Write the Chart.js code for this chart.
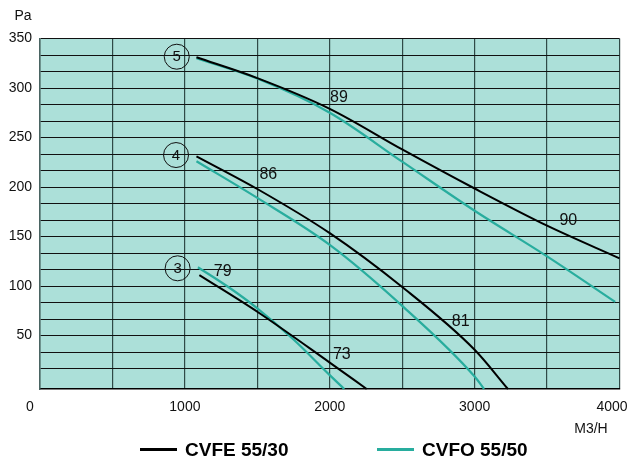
<!DOCTYPE html>
<html><head><meta charset="utf-8">
<script src="https://cdn.jsdelivr.net/npm/chart.js@4.4.1/dist/chart.umd.min.js"></script>
<style>html,body{margin:0;padding:0;background:#fff}#wrap{width:630px;height:459px}</style>
</head><body><div id="wrap"><canvas id="c" width="630" height="459"></canvas></div>
<script>
// ---- axis / tick data ----
const xTickValues = [0, 1000, 2000, 3000, 4000];
const yTickLabels = [50, 100, 150, 200, 250, 300, 350];
const seriesNames = ['CVFE 55/30', 'CVFO 55/50'];

// ---- CVFE 55/30 (black) ----
const cvfe5Flow = [1080, 1500, 2000, 2500, 3000, 3500, 4000];
const cvfe5Pa   = [331, 310, 279, 238, 198.5, 161, 128];
const cvfe4Flow = [1080, 1500, 2000, 2500, 3000, 3230];
const cvfe4Pa   = [231, 198, 153.4, 99, 35.6, -4];
const cvfe3Flow = [1100, 1500, 2000, 2255];
const cvfe3Pa   = [111, 74, 22.7, -4];

// ---- CVFO 55/50 (teal) ----
const cvfo5Flow = [1080, 1500, 2000, 2500, 3000, 3500, 3970];
const cvfo5Pa   = [330, 309.5, 275, 225.6, 176, 130, 84];
const cvfo4Flow = [1080, 1500, 2000, 2500, 3000, 3065];
const cvfo4Pa   = [226, 189, 141.6, 80, 8.6, -4];
const cvfo3Flow = [1090, 1300, 1500, 1750, 2000, 2100];
const cvfo3Pa   = [119, 99, 77.5, 46, 10, -4];

// ---- annotations (data units) ----
const speedNames = ['5', '4', '3'];
const speedFlow  = [944, 939, 950];
const speedPa    = [331.6, 232.3, 117.9];
const effNames = ['89', '86', '79', '73', '81', '90'];
const effFlow  = [2064, 1576, 1261, 2083, 2904, 3647];
const effPa    = [290.6, 212.1, 114.5, 30.3, 64, 165.7];

const BLACK = '#000000';
const TEAL = '#28ad9e';
const FONT = '"Liberation Sans", Arial, Helvetica, sans-serif';

function pts(xs, ys) { return xs.map((x, i) => ({ x: x, y: ys[i] })); }
function ds(label, xs, ys, color, w) {
  return { label: label, data: pts(xs, ys), borderColor: color, backgroundColor: color,
    borderWidth: w, pointRadius: 0, showLine: true, fill: false,
    cubicInterpolationMode: 'monotone', clip: false };
}

const yGrid = [];
for (let i = 1; i <= 21; i++) yGrid.push((i * 50) / 3);

const decor = {
  id: 'decor',
  beforeDraw(chart) {
    const a = chart.chartArea, ctx = chart.ctx;
    ctx.save();
    ctx.fillStyle = '#ace0d9';
    ctx.fillRect(a.left, a.top, a.right - a.left, a.bottom - a.top);
    ctx.restore();
  },
  afterDatasetsDraw(chart) {
    const ctx = chart.ctx, xs = chart.scales.x, ys = chart.scales.y, a = chart.chartArea;
    ctx.save();
    ctx.fillStyle = '#111';
    ctx.textAlign = 'center';
    ctx.textBaseline = 'middle';
    // efficiency numbers
    ctx.font = '16px ' + FONT;
    effNames.forEach((t, i) => ctx.fillText(t, xs.getPixelForValue(effFlow[i]), ys.getPixelForValue(effPa[i])));
    // speed circles
    ctx.font = '15px ' + FONT;
    ctx.strokeStyle = '#111';
    ctx.lineWidth = 1;
    speedNames.forEach((t, i) => {
      const px = xs.getPixelForValue(speedFlow[i]), py = ys.getPixelForValue(speedPa[i]);
      ctx.beginPath(); ctx.arc(px, py, 12.5, 0, Math.PI * 2); ctx.stroke();
      ctx.fillText(t, px, py + 0.5);
    });
    // x tick labels
    ctx.font = '14px ' + FONT;
    xTickValues.forEach((v, i) => {
      let px = xs.getPixelForValue(v);
      if (i === 0) px -= 10;
      if (i === xTickValues.length - 1) px -= 7.5;
      ctx.fillText(String(v), px, a.bottom + 18);
    });
    // axis unit labels
    ctx.fillText('Pa', 23, 16);
    ctx.fillText('M3/H', 591, 429);
    // legend
    const colors = [BLACK, TEAL];
    const lineStart = [140, 377];
    ctx.font = 'bold 19px ' + FONT;
    ctx.textAlign = 'left';
    seriesNames.forEach((n, i) => {
      ctx.strokeStyle = colors[i];
      ctx.lineWidth = 3;
      ctx.beginPath(); ctx.moveTo(lineStart[i], 449.5); ctx.lineTo(lineStart[i] + 37, 449.5); ctx.stroke();
      ctx.fillStyle = '#000';
      ctx.fillText(n, lineStart[i] + 45, 450.5);
    });
    ctx.restore();
  }
};

new Chart(document.getElementById('c'), {
  type: 'scatter',
  data: {
    datasets: [
      ds(seriesNames[0], cvfe5Flow, cvfe5Pa, BLACK, 2),
      ds(seriesNames[0], cvfe4Flow, cvfe4Pa, BLACK, 2),
      ds(seriesNames[0], cvfe3Flow, cvfe3Pa, BLACK, 2),
      ds(seriesNames[1], cvfo5Flow, cvfo5Pa, TEAL, 2.2),
      ds(seriesNames[1], cvfo4Flow, cvfo4Pa, TEAL, 2.2),
      ds(seriesNames[1], cvfo3Flow, cvfo3Pa, TEAL, 2.2)
    ]
  },
  options: {
    responsive: false,
    devicePixelRatio: 1,
    animation: false,
    layout: { padding: { left: 0, top: 38.5, right: 10.5, bottom: 70 } },
    plugins: { legend: { display: false }, tooltip: { enabled: false } },
    scales: {
      x: {
        type: 'linear', min: 0, max: 4000,
        ticks: { display: false, stepSize: 500 },
        grid: { color: '#2f4a47', lineWidth: 1.2, drawTicks: false },
        border: { display: true, color: '#000', width: 1.5 },
        afterFit(s) { s.height = 0; }
      },
      y: {
        type: 'linear', min: -4, max: 350,
        afterBuildTicks(s) { s.ticks = yGrid.map(v => ({ value: v })); },
        ticks: {
          autoSkip: false, padding: 8, color: '#111',
          font: { family: FONT, size: 14 },
          callback: v => (yTickLabels.includes(v) ? String(v) : '')
        },
        grid: { color: '#111', lineWidth: 1, drawTicks: false },
        border: { display: true, color: '#4a6462', width: 1.5 },
        afterFit(s) { s.width = 40; }
      }
    }
  },
  plugins: [decor]
});
</script></body></html>
